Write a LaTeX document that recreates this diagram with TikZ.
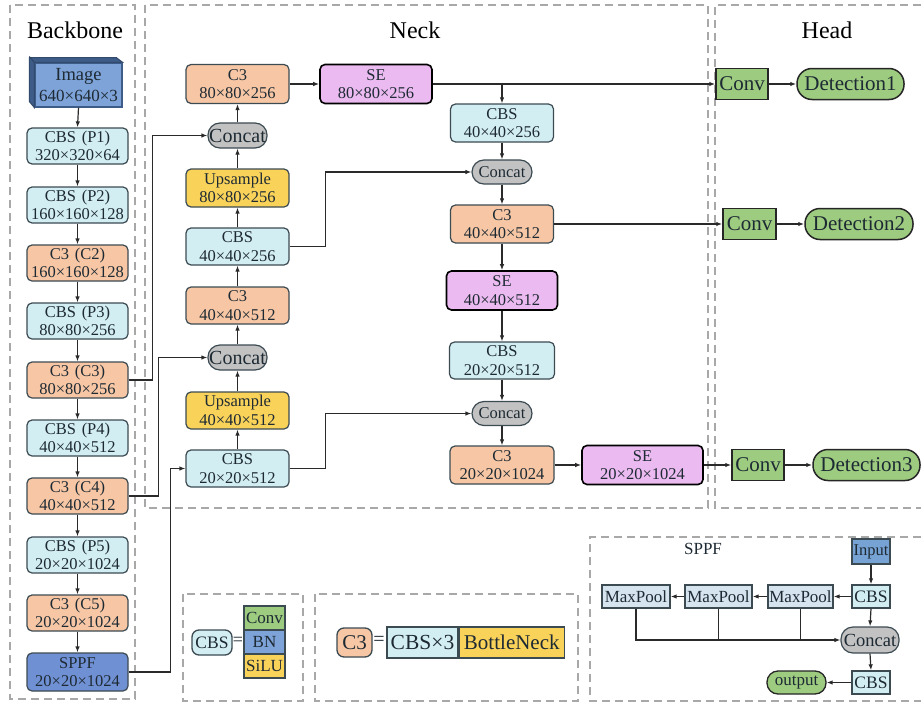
\documentclass[tikz,border=0pt]{standalone}
\usepackage{fontspec}
\setmainfont{Liberation Serif}
\usetikzlibrary{arrows.meta}
\definecolor{cbsc}{HTML}{D3EEF3}
\definecolor{c3c}{HTML}{F7C7A5}
\definecolor{upc}{HTML}{F9D25A}
\definecolor{sec}{HTML}{EBBAF0}
\definecolor{catc}{HTML}{C2C2C2}
\definecolor{grc}{HTML}{9DCB80}
\definecolor{imgc}{HTML}{7DA3D8}
\definecolor{imgd}{HTML}{3E5C88}
\definecolor{sppfc}{HTML}{7090D4}
\definecolor{mpc}{HTML}{D6E4F0}
\definecolor{inc}{HTML}{76A2D4}
\definecolor{bordc}{HTML}{3C4A52}
\definecolor{txt}{HTML}{1E2A33}
\definecolor{linec}{HTML}{2A2A2A}
\definecolor{dashc}{HTML}{A8A8A8}
\newcommand{\fz}[2]{\fontsize{#1pt}{#2pt}\selectfont}
\tikzset{
  box/.style={draw=bordc, line width=1.2pt, rounded corners=5pt, inner sep=0pt, align=center, text=txt, font=\fz{16.5}{18.5}},
  cbsb/.style={box, fill=cbsc},
  c3b/.style={box, fill=c3c},
  upb/.style={box, fill=upc},
  seb/.style={box, fill=sec, draw=black, line width=1.6pt},
  sppfb/.style={box, fill=sppfc},
  catb/.style={draw=bordc, line width=1.2pt, fill=catc, rounded corners=12pt, inner sep=0pt, text=txt},
  convb/.style={draw=black!85, line width=1.5pt, fill=grc, inner sep=0pt, text=txt, font=\fz{21}{23}, minimum width=52pt, minimum height=31pt},
  detb/.style={draw=black!85, line width=1.5pt, fill=grc, inner sep=0pt, text=txt, font=\fz{21}{23}, rounded corners=15pt, minimum height=31pt},
  bbw/.style={minimum width=101pt, minimum height=36pt},
  nkw/.style={minimum width=103pt, minimum height=37pt},
  arr/.style={line width=1.2pt, draw=linec, -{Latex[length=6pt,width=4.5pt]}},
  ln/.style={line width=1.2pt, draw=linec},
  dbox/.style={draw=dashc, line width=1.1pt, dash pattern=on 8pt off 5pt},
  ttl/.style={text=black, font=\fz{24}{26}, inner sep=0pt},
  sq/.style={draw=bordc, line width=1.3pt, inner sep=0pt, text=txt},
}
\begin{document}
\begin{tikzpicture}[x=1pt, y=-1pt]
\useasboundingbox (0,0) rectangle (921,704);
\fill[white] (0,0) rectangle (921,704);
% dashed regions
\draw[dbox] (10,5) rectangle (135,699);
\draw[dbox] (145,5) rectangle (708,508);
\draw[dbox] (921,5) -- (715,5) -- (715,508) -- (921,508);
\draw[dbox] (183,594) rectangle (303,701);
\draw[dbox] (315,594) rectangle (578,701);
\draw[dbox] (921,537) -- (590,537) -- (590,701) -- (921,701);
% titles
\node[ttl] (tb) at (75,30) {Backbone};
\node[ttl] (tn) at (415,30) {Neck};
\node[ttl] (th) at (827,30) {Head};
% ---------- Backbone ----------
\node[draw=imgd, line width=1.2pt, fill=imgc, minimum width=87pt, minimum height=44pt, inner sep=0pt, align=center, text=txt, font=\fz{17}{21}] (img) at (78.5,85) {{\fz{18.5}{20}Image}\\640×640×3};
\filldraw[fill=imgd, draw=imgd!80!black, line width=1pt] (img.south west) -- ++(-5,-6) -- ++(0,-44) -- ++(87,0) -- (img.north east) -- (img.north west) -- cycle;
\draw[imgd!70!black, line width=0.8pt] (img.north west) -- ++(-5,-6);
\node[cbsb, bbw] (b1) at (77.5,146) {CBS\hspace{0.35em}(P1)\\320×320×64};
\node[cbsb, bbw] (b2) at (77.5,205) {CBS\hspace{0.35em}(P2)\\160×160×128};
\node[c3b, bbw] (b3) at (77.5,263) {C3\hspace{0.35em}(C2)\\160×160×128};
\node[cbsb, bbw] (b4) at (77.5,321) {CBS\hspace{0.35em}(P3)\\80×80×256};
\node[c3b, bbw] (b5) at (77.5,380) {C3\hspace{0.35em}(C3)\\80×80×256};
\node[cbsb, bbw] (b6) at (77.5,438) {CBS\hspace{0.35em}(P4)\\40×40×512};
\node[c3b, bbw] (b7) at (77.5,496) {C3\hspace{0.35em}(C4)\\40×40×512};
\node[cbsb, bbw] (b8) at (77.5,555) {CBS\hspace{0.35em}(P5)\\20×20×1024};
\node[c3b, bbw] (b9) at (77.5,613) {C3\hspace{0.35em}(C5)\\20×20×1024};
\node[sppfb, bbw, minimum height=38pt] (b10) at (77.5,672) {SPPF\\20×20×1024};
\draw[arr] (img.south) -- (b1.north);
\foreach \a/\b in {b1/b2,b2/b3,b3/b4,b4/b5,b5/b6,b6/b7,b7/b8,b8/b9,b9/b10}{\draw[arr] (\a.south) -- (\b.north);}
% ---------- Neck column 1 ----------
\node[c3b, nkw, minimum height=39pt] (c380) at (237.5,84) {C3\\80×80×256};
\node[catb, minimum width=59pt, minimum height=25pt, font=\fz{20}{22}] (cat1) at (237.5,135.5) {Concat};
\node[upb, nkw, minimum height=38pt] (up80) at (237.5,188) {Upsample\\80×80×256};
\node[cbsb, nkw] (cbs40) at (237.5,246.5) {CBS\\40×40×256};
\node[c3b, nkw] (c340) at (237.5,305.5) {C3\\40×40×512};
\node[catb, minimum width=59pt, minimum height=25pt, font=\fz{20}{22}] (cat2) at (237.5,357.5) {Concat};
\node[upb, nkw] (up40) at (237.5,410.5) {Upsample\\40×40×512};
\node[cbsb, nkw] (n20) at (237.5,468.5) {CBS\\20×20×512};
\draw[arr] (n20.north) -- (up40.south);
\draw[arr] (up40.north) -- (cat2.south);
\draw[arr] (cat2.north) -- (c340.south);
\draw[arr] (c340.north) -- (cbs40.south);
\draw[arr] (cbs40.north) -- (up80.south);
\draw[arr] (up80.north) -- (cat1.south);
\draw[arr] (cat1.north) -- (c380.south);
% backbone -> neck
\draw[arr] (b5.east) -- ++(24,0) |- (cat1.west);
\draw[arr] (b7.east) -- ++(30,0) |- (cat2.west);
\draw[arr] (b10.east) -- ++(42,0) |- (n20.west);
% ---------- Neck column 2 ----------
\node[seb, minimum width=112pt, minimum height=39pt] (se80) at (376,84) {SE\\80×80×256};
\node[cbsb, minimum width=103pt, minimum height=38pt] (cbs40b) at (502,123) {CBS\\40×40×256};
\node[catb, minimum width=60pt, minimum height=24pt, font=\fz{16.5}{18}] (cat3) at (502,172) {Concat};
\node[c3b, minimum width=103pt, minimum height=38pt] (c340b) at (502,224) {C3\\40×40×512};
\node[seb, minimum width=111pt, minimum height=39pt] (se40) at (502,290.5) {SE\\40×40×512};
\node[cbsb, minimum width=105pt, minimum height=37pt] (cbs20b) at (502,360.5) {CBS\\20×20×512};
\node[catb, minimum width=60pt, minimum height=24pt, font=\fz{16.5}{18}] (cat4) at (502,413.5) {Concat};
\node[c3b, minimum width=104pt, minimum height=38pt] (c320) at (502,465) {C3\\20×20×1024};
\node[seb, minimum width=121pt, minimum height=39pt] (se20) at (642.5,465) {SE\\20×20×1024};
\draw[arr] (c380.east) -- (se80.west);
\draw[arr] (cbs40b.north |- se80.east) -- (cbs40b.north);
\draw[arr] (cbs40b.south) -- (cat3.north);
\draw[arr] (cat3.south) -- (c340b.north);
\draw[arr] (c340b.south) -- (se40.north);
\draw[arr] (se40.south) -- (cbs20b.north);
\draw[arr] (cbs20b.south) -- (cat4.north);
\draw[arr] (cat4.south) -- (c320.north);
\draw[arr] (cbs40.east) -- ++(36,0) |- (cat3.west);
\draw[arr] (n20.east) -- ++(36,0) |- (cat4.west);
\draw[arr] (c320.east) -- (se20.west);
% ---------- Head ----------
\node[convb] (conv1) at (742,84) {Conv};
\node[detb, minimum width=107pt] (det1) at (850.5,84) {Detection1};
\node[convb, minimum width=53pt] (conv2) at (749.5,224) {Conv};
\node[detb, minimum width=108pt] (det2) at (859,224) {Detection2};
\node[convb] (conv3) at (758,465) {Conv};
\node[detb, minimum width=107pt] (det3) at (866.5,465) {Detection3};
\draw[arr] (se80.east) -- (conv1.west);
\draw[arr] (c340b.east) -- (conv2.west);
\draw[arr] (se20.east) -- (conv3.west);
\draw[arr] (conv1.east) -- (det1.west);
\draw[arr] (conv2.east) -- (det2.west);
\draw[arr] (conv3.east) -- (det3.west);
% ---------- Legend CBS ----------
\node[draw=bordc, line width=1.3pt, fill=cbsc, rounded corners=7pt, inner sep=0pt, minimum width=40pt, minimum height=25pt, text=txt, font=\fz{17.5}{19}] (lcbs) at (212,642.5) {CBS};
\node[inner sep=0pt, text=txt, font=\fz{18}{19}] (leq1) at (238,641) {=};
\node[sq, fill=grc, minimum width=41pt, minimum height=24pt, font=\fz{17}{19}] (lconv) at (264.5,618) {Conv};
\node[sq, fill=imgc, minimum width=41pt, minimum height=24pt, font=\fz{17}{19}] (lbn) at (264.5,642) {BN};
\node[sq, fill=upc, minimum width=41pt, minimum height=24pt, font=\fz{17}{19}] (lsilu) at (264.5,666) {SiLU};
% ---------- Legend C3 ----------
\node[draw=bordc, line width=1.3pt, fill=c3c, rounded corners=7pt, inner sep=0pt, minimum width=35pt, minimum height=29pt, text=txt, font=\fz{21}{23}] (lc3) at (354.5,642.5) {C3};
\node[inner sep=0pt, text=txt, font=\fz{20}{21}] (leq2) at (379,641) {=};
\node[sq, fill=cbsc, minimum width=71pt, minimum height=31pt, font=\fz{21.5}{23}] (lcbs3) at (422.5,642.5) {CBS×3};
\node[sq, fill=upc, minimum width=105pt, minimum height=31pt, font=\fz{21}{23}, anchor=west] (lbot) at (lcbs3.east) {BottleNeck};
% ---------- SPPF ----------
\node[inner sep=0pt, text=txt, font=\fz{17}{19}] (tsppf) at (703,549) {SPPF};
\node[sq, fill=inc, minimum width=38pt, minimum height=25pt, font=\fz{16.5}{18}] (sin) at (871,551.5) {Input};
\node[sq, fill=cbsc, minimum width=38pt, minimum height=23pt, font=\fz{17.5}{19}] (scbs1) at (871,596.5) {CBS};
\node[sq, fill=mpc, minimum width=65pt, minimum height=23pt, font=\fz{17}{19}] (mp3) at (800.5,596.5) {MaxPool};
\node[sq, fill=mpc, minimum width=67pt, minimum height=23pt, font=\fz{17}{19}] (mp2) at (718.5,596.5) {MaxPool};
\node[sq, fill=mpc, minimum width=68pt, minimum height=23pt, font=\fz{17}{19}] (mp1) at (636,596.5) {MaxPool};
\node[catb, minimum width=58pt, minimum height=26pt, font=\fz{18.5}{20}] (scat) at (870,640) {Concat};
\node[sq, fill=cbsc, minimum width=38pt, minimum height=23pt, font=\fz{17.5}{19}] (scbs2) at (871,682.5) {CBS};
\node[draw=black!85, line width=1.3pt, fill=grc, rounded corners=11pt, inner sep=0pt, minimum width=59pt, minimum height=23pt, text=txt, font=\fz{17}{19}] (sout) at (796.5,682.5) {output};
\draw[arr] (sin.south) -- (scbs1.north);
\draw[arr] (scbs1.west) -- (mp3.east);
\draw[arr] (mp3.west) -- (mp2.east);
\draw[arr] (mp2.west) -- (mp1.east);
\draw[arr] (scbs1.south) -- (scat.north);
\draw[arr] (scat.south) -- (scbs2.north);
\draw[arr] (scbs2.west) -- (sout.east);
\draw[arr] (mp1.south) |- (scat.west);
\draw[ln] (mp2.south) -- (mp2.south |- scat.west);
\draw[ln] (mp3.south) -- (mp3.south |- scat.west);
\end{tikzpicture}
\end{document}
